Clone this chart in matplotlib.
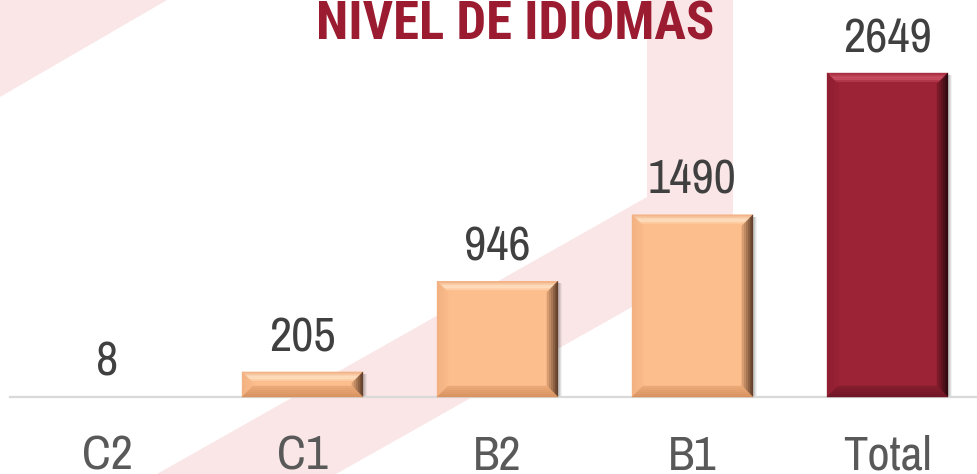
"""
Bar chart of language levels (NIVEL DE IDIOMAS) with bevelled bars
"""

import numpy as np
import matplotlib
matplotlib.use("Agg")
import matplotlib.pyplot as plt
from matplotlib import font_manager
from matplotlib.colors import to_rgb
from matplotlib.patches import Polygon, Rectangle
from matplotlib.transforms import IdentityTransform


categories = ["C2", "C1", "B2", "B1", "Total"]
counts = [8, 205, 946, 1490, 2649]
bar_colors = ["#FDBE8D", "#FDBE8D", "#FDBE8D", "#FDBE8D", "#9B2335"]

title = "NIVEL DE IDIOMAS"

W, H = 977, 474

# bevel shading per face colour: (top outer, top inner, left, right outer, right inner, bottom)
BEVEL = {
    "#FDBE8D": ("#F2B488", "#FFE3C6", "#F3B182", "#5E3C28", "#D79C70", "#D7925F"),
    "#9B2335": ("#A83042", "#CF5468", "#8F1F31", "#2E080E", "#7E1B2B", "#6E1626"),
}


def pick_family(candidates, bold=False):
    """first installed family of the list (with a bold face if asked)"""
    for name in candidates:
        faces = [f for f in font_manager.fontManager.ttflist if f.name == name]
        if not faces:
            continue
        if bold and not any(int(f.weight) >= 600 for f in faces if str(f.weight).isdigit()):
            continue
        return name
    return "DejaVu Sans"


NARROW = [pick_family(["Liberation Sans Narrow", "Arial Narrow", "Archivo Narrow",
                       "Roboto Condensed", "Barlow Condensed"]), "DejaVu Sans"]
NARROW_BOLD = [pick_family(["Liberation Sans Narrow", "Arial Narrow", "Roboto Condensed",
                            "Archivo Narrow", "Barlow Condensed"], bold=True), "DejaVu Sans"]


def mix(c1, c2, t):
    a, b = np.array(to_rgb(c1)), np.array(to_rgb(c2))
    return tuple(a + (b - a) * t)


def strip(side, x0, y0, x1, y1, a, b):
    """trapezoid of one side of the bevel between insets a and b (display px)"""
    if side == "top":
        return [(x0 + a, y1 - a), (x1 - a, y1 - a), (x1 - b, y1 - b), (x0 + b, y1 - b)]
    if side == "bottom":
        return [(x0 + a, y0 + a), (x1 - a, y0 + a), (x1 - b, y0 + b), (x0 + b, y0 + b)]
    if side == "left":
        return [(x0 + a, y0 + a), (x0 + b, y0 + b), (x0 + b, y1 - b), (x0 + a, y1 - a)]
    return [(x1 - a, y0 + a), (x1 - b, y0 + b), (x1 - b, y1 - b), (x1 - a, y1 - a)]


def add_bevel(ax, patch, face, size=11, steps=6):
    x0, y0, x1, y1 = patch.get_window_extent().extents
    b = min(size, (y1 - y0) / 2.0, (x1 - x0) / 2.0)
    if b < 2:
        return
    t_out, t_in, left, r_out, r_in, bottom = BEVEL[face]
    edges = np.linspace(0, b, steps + 1)
    for k in range(steps):
        t = k / (steps - 1)
        # top: darker rim, bright band, then face
        top_c = mix(t_out, t_in, min(1, 2 * t)) if t < 0.5 else mix(t_in, face, (t - 0.5) * 2)
        cols = {
            "top": top_c,
            "left": mix(left, face, t * 0.6),
            "right": mix(r_out, r_in, t),
            "bottom": mix(bottom, face, t * 0.5),
        }
        for side, c in cols.items():
            poly = Polygon(strip(side, x0, y0, x1, y1, edges[k], edges[k + 1]),
                           closed=True, facecolor=c, edgecolor=c, linewidth=0.3,
                           transform=IdentityTransform(), zorder=3, clip_on=False)
            ax.add_artist(poly)


fig = plt.figure(figsize=(W / 100, H / 100), dpi=100)
fig.patch.set_facecolor("white")

# faint watermark stripes behind the chart
bg = fig.add_axes([0, 0, 1, 1], zorder=-1)
bg.set_xlim(0, W)
bg.set_ylim(H, 0)
bg.axis("off")
pink = "#FAE6E6"
bg.add_patch(Polygon([(0, 0), (167, 0), (0, 97)], closed=True, facecolor=pink, edgecolor="none"))
bg.add_patch(Polygon([(157, 474), (647, 197), (647, 0), (733, 0), (733, 250), (336, 474)],
                     closed=True, facecolor=pink, edgecolor="none"))

ax = fig.add_axes([10 / W, (H - 397) / H, 975 / W, 397 / H])
ax.patch.set_alpha(0)

x = np.arange(len(categories))
bars = ax.bar(x, counts, width=0.62, color=bar_colors, edgecolor="none", zorder=2)

ax.set_xlim(-0.5, len(categories) - 0.5)
ax.set_ylim(0, 3246)

for side in ["top", "right", "left"]:
    ax.spines[side].set_visible(False)
ax.spines["bottom"].set_color("#D9D9D9")
ax.spines["bottom"].set_linewidth(1.6)
ax.set_yticks([])
ax.set_xticks(x)
ax.set_xticklabels(categories, fontsize=35, color="#595959", family=NARROW)
ax.tick_params(axis="x", length=0, pad=27)

for rect, val in zip(bars, counts):
    ax.annotate(str(val), (rect.get_x() + rect.get_width() / 2, rect.get_height()),
                xytext=(0, 15), textcoords="offset points", ha="center", va="baseline",
                fontsize=35, color="#404040", family=NARROW)

fig.text(515 / W, 1 - 40 / H, title, ha="center", va="baseline", fontsize=38,
         fontweight="bold", color="#9B1B30", family=NARROW_BOLD)

fig.canvas.draw()
for rect, face in zip(bars, bar_colors):
    ex = rect.get_window_extent().extents
    if ex[3] - ex[1] > 3:
        # soft drop shadow on the right
        for off, al in [(4, 0.05), (3, 0.07), (2, 0.09)]:
            ax.add_artist(Rectangle((ex[0] + off, ex[1] - 1), ex[2] - ex[0], ex[3] - ex[1] - 1,
                                    facecolor="black", alpha=al, edgecolor="none",
                                    transform=IdentityTransform(), zorder=1.5, clip_on=False))
    add_bevel(ax, rect, face)

fig.savefig("out.png", dpi=100, facecolor="white")
